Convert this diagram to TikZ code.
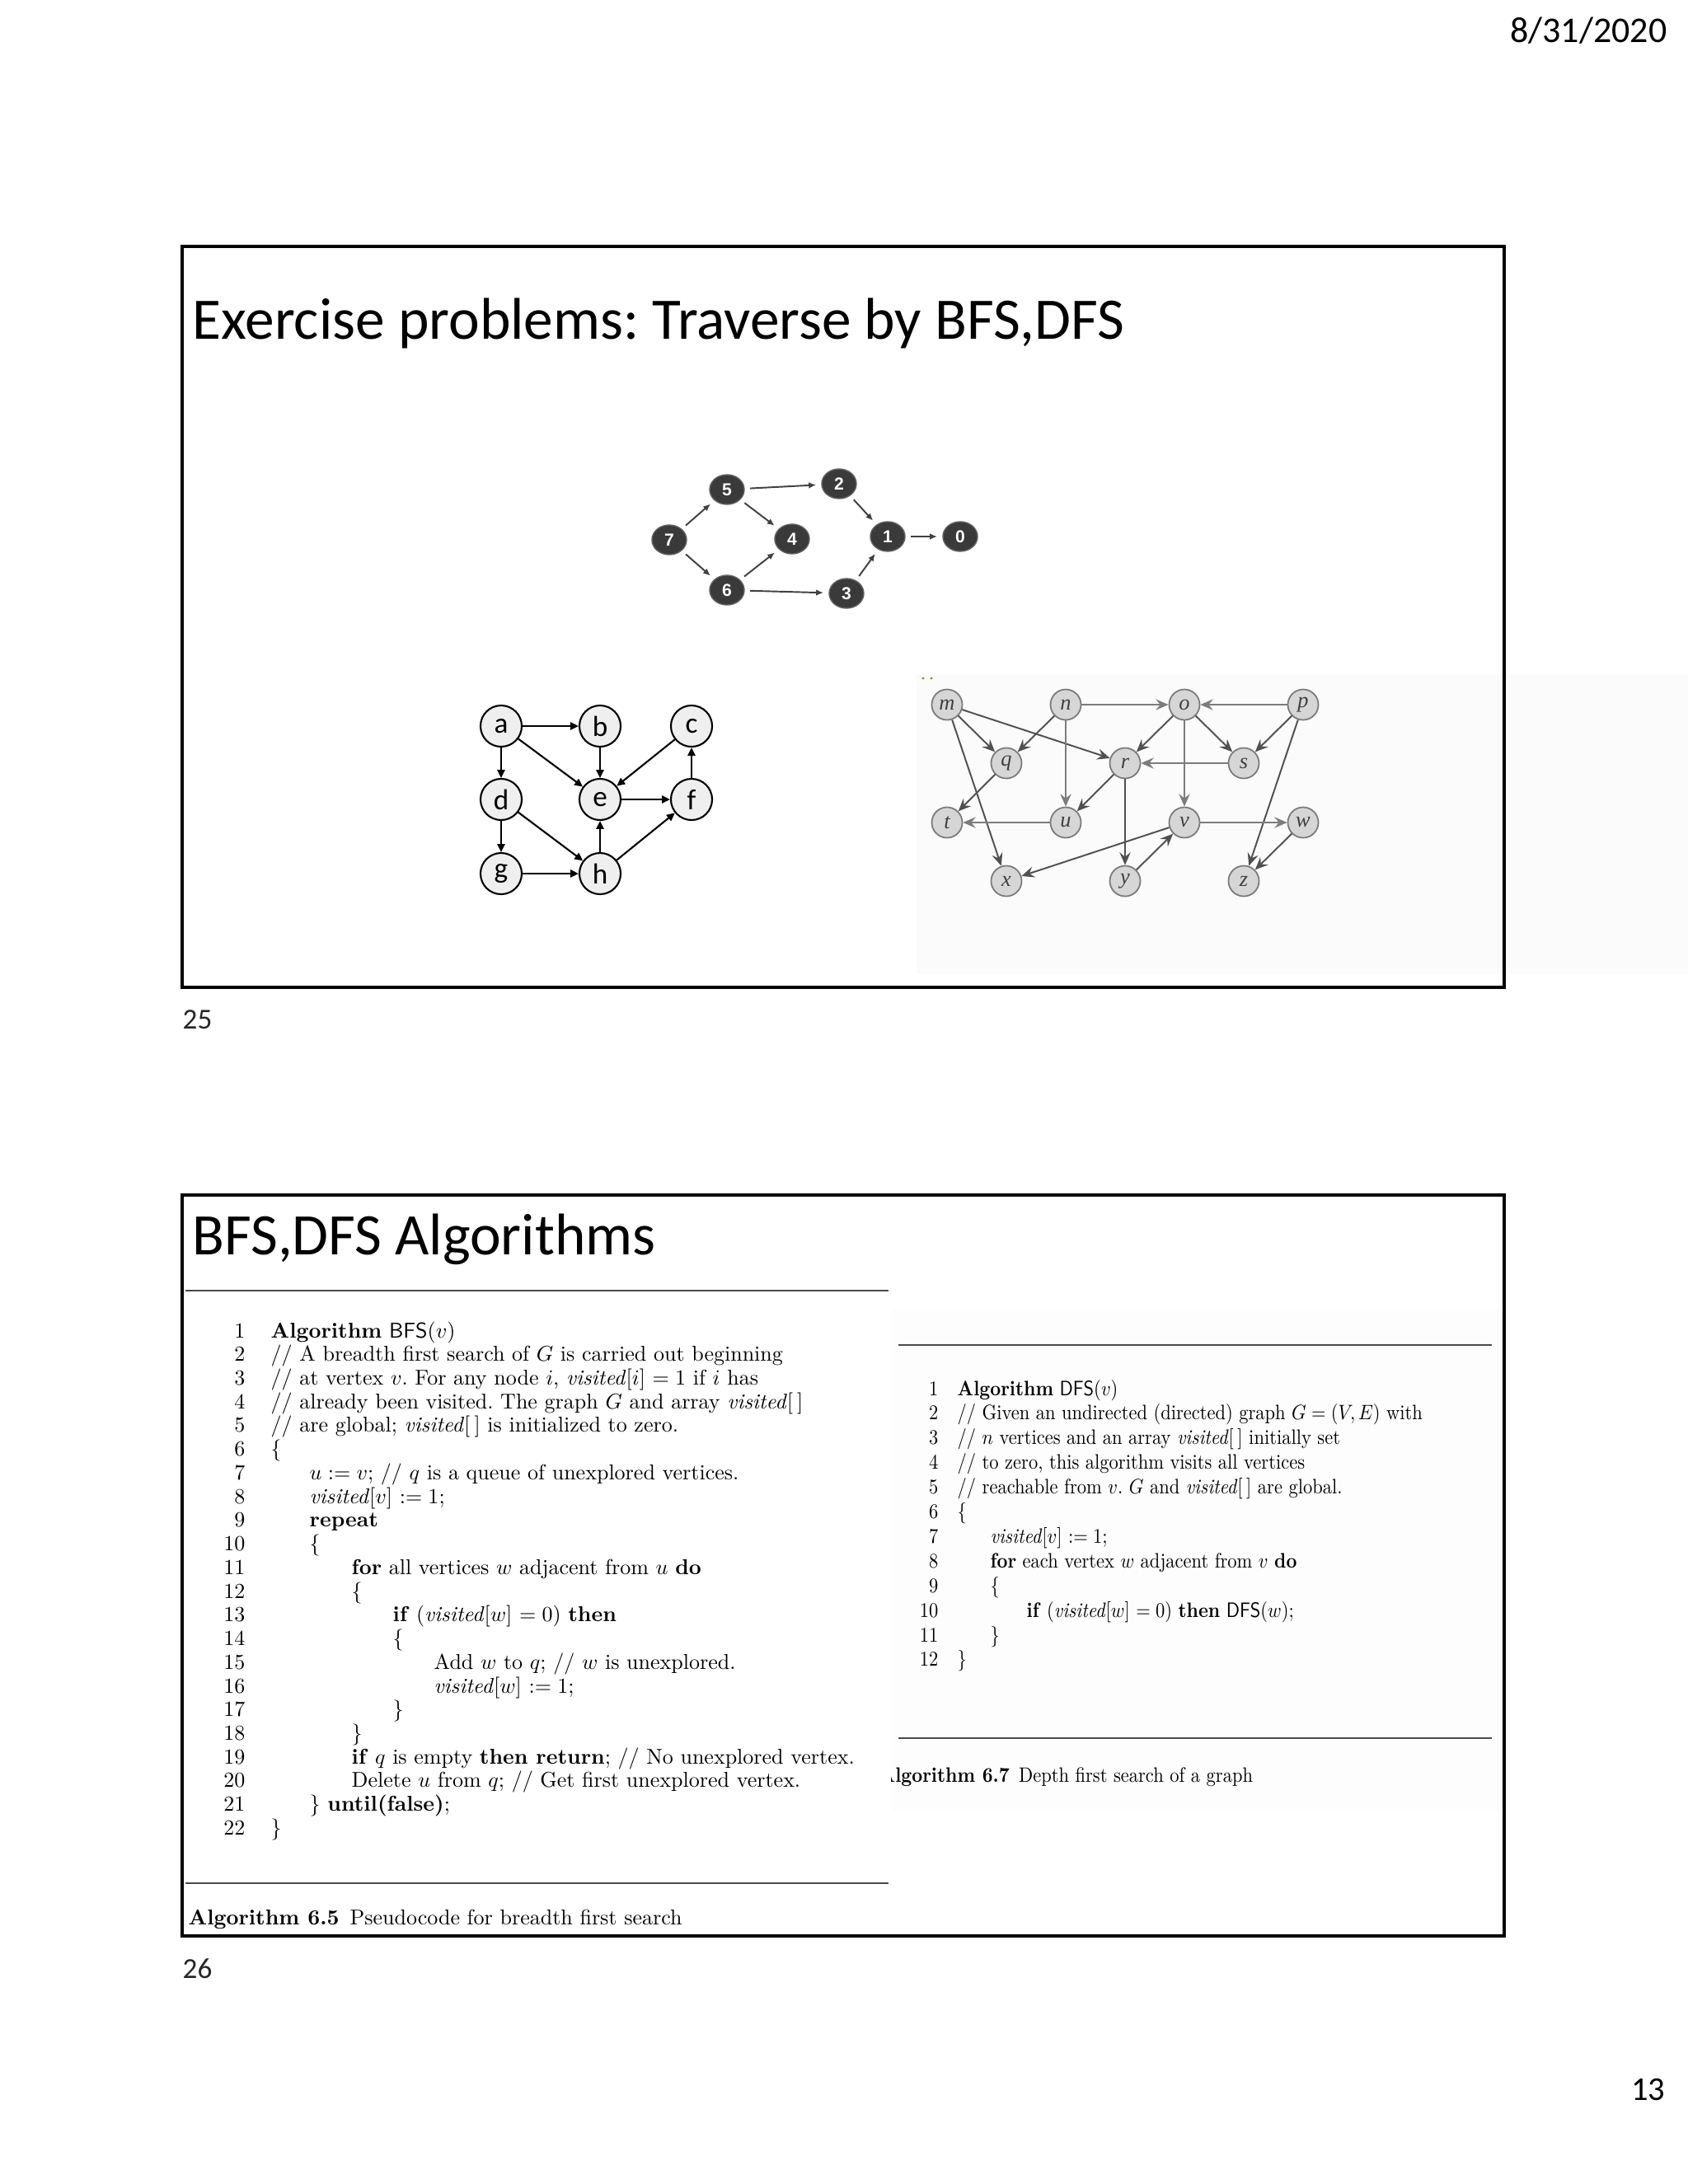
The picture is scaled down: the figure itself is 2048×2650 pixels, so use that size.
\documentclass[tikz,border=0pt]{standalone}
\usepackage{fontspec}
\usepackage{graphicx}
\usetikzlibrary{arrows.meta,shapes.geometric}
\newfontfamily\calfont{Carlito}
\newfontfamily\arfont{Liberation Sans}
\newfontfamily\tmfont{Liberation Serif}
\frenchspacing
\newcommand\algvis{\textit{visited}}
\newcommand\bfsbox[1]{\scalebox{0.74}{#1}}
\newcommand\dfsbox[1]{\scalebox{0.64}[0.72]{#1}}
\definecolor{numfill}{HTML}{3A3A3A}
\definecolor{numline}{HTML}{404040}
\definecolor{ahfill}{HTML}{EFEFEF}
\definecolor{mzfill}{HTML}{D6D6D6}
\definecolor{mzdraw}{HTML}{7A7A7A}
\definecolor{mzline}{HTML}{505050}
\definecolor{mztext}{HTML}{404040}
\definecolor{rulegray}{HTML}{4A4A4A}
\definecolor{dotolive}{HTML}{8A8A40}
\begin{document}
\begin{tikzpicture}[x=0.01cm,y=-0.01cm,
  slideframe/.style={draw=black,line width=1pt},
  slidetitle/.style={anchor=base west,inner sep=0,font=\calfont\fontsize{20.3}{24}\selectfont},
  pagenum/.style={anchor=base west,inner sep=0,text=black!85,font=\calfont\fontsize{10}{12}\selectfont},
  numnode/.style={ellipse,fill=numfill,draw=numfill!80,line width=0.4pt,minimum width=0.42cm,minimum height=0.36cm,inner sep=0,text=white,font=\arfont\bfseries\fontsize{6}{7}\selectfont},
  numarrow/.style={draw=numline,line width=0.55pt,-{Latex[length=2.5pt,width=2.2pt]},shorten <=1.8pt,shorten >=1.8pt},
  ahnode/.style={circle,fill=ahfill,draw=black,line width=0.6pt,minimum size=0.5cm,inner sep=0,font=\calfont\fontsize{10}{12}\selectfont},
  aharrow/.style={draw=black,line width=0.6pt,-{Triangle[length=2.8pt,width=2.6pt]}},
  mznode/.style={circle,fill=mzfill,draw=mzdraw,line width=0.5pt,minimum size=0.37cm,inner sep=0,text=mztext,font=\tmfont\itshape\fontsize{7.5}{9}\selectfont},
  mzarrow/.style={draw=mzline,line width=0.55pt,-{Stealth[length=4.4pt,width=3.8pt,inset=1.6pt]}},
  mzlight/.style={mzarrow,draw=mzline!75,line width=0.45pt},
  bfsnum/.style={anchor=base east,inner sep=0,font=\fontsize{10}{12}\selectfont},
  bfstext/.style={anchor=base west,inner sep=0,font=\fontsize{10}{12}\selectfont},
  dfsnum/.style={anchor=base east,inner sep=0,font=\fontsize{10}{12}\selectfont},
  dfstext/.style={anchor=base west,inner sep=0,font=\fontsize{10}{12}\selectfont},
  algrule/.style={draw=rulegray,line width=0.75pt}]
\useasboundingbox (0,0) rectangle (2048,2650);
\fill[white] (0,0) rectangle (2048,2650);

% faint image backgrounds
\fill[black!1.5] (1112,818) rectangle (2048,1182);
\fill[black!0.8] (1081,1588) rectangle (1822,2200);

% header / footer
\node[anchor=base east,inner sep=0,font=\calfont\fontsize{12.5}{15}\selectfont] (date) at (2023,51) {8/31/2020};
\node[anchor=base east,inner sep=0,font=\calfont\fontsize{11.5}{14}\selectfont] (pg13) at (2021,2548) {13};

% ---------------- slide 25 ----------------
\draw[slideframe] (221,299) rectangle (1825,1198);
\node[slidetitle] (title1) at (233,411) {Exercise problems: Traverse by BFS,DFS};
\node[pagenum] (pg25) at (221,1248) {25};

% numbered graph
\node[numnode] (n7) at (812,655) {7};
\node[numnode] (n5) at (882,594) {5};
\node[numnode] (n2) at (1018,587) {2};
\node[numnode] (n4) at (961,654) {4};
\node[numnode] (n1) at (1077,651) {1};
\node[numnode] (n0) at (1165,651) {0};
\node[numnode] (n6) at (882,716) {6};
\node[numnode] (n3) at (1027,720) {3};
\draw[numarrow] (n7) -- (n5);
\draw[numarrow] (n7) -- (n6);
\draw[numarrow] (n5) -- (n2);
\draw[numarrow] (n5) -- (n4);
\draw[numarrow] (n6) -- (n4);
\draw[numarrow] (n6) -- (n3);
\draw[numarrow] (n2) -- (n1);
\draw[numarrow] (n3) -- (n1);
\draw[numarrow] (n1) -- (n0);

% a-h graph
\node[ahnode] (a) at (608,881) {a};
\node[ahnode] (b) at (728,881) {b};
\node[ahnode] (c) at (839,881) {c};
\node[ahnode] (d) at (608,970) {d};
\node[ahnode] (e) at (728,970) {e};
\node[ahnode] (f) at (839,970) {f};
\node[ahnode] (g) at (608,1060) {g};
\node[ahnode] (h) at (728,1060) {h};
\draw[aharrow] (a) -- (b);
\draw[aharrow] (a) -- (d);
\draw[aharrow] (a) -- (e);
\draw[aharrow] (b) -- (e);
\draw[aharrow] (c) -- (e);
\draw[aharrow] (f) -- (c);
\draw[aharrow] (e) -- (f);
\draw[aharrow] (d) -- (g);
\draw[aharrow] (d) -- (h);
\draw[aharrow] (h) -- (e);
\draw[aharrow] (g) -- (h);
\draw[aharrow] (h) -- (f);

% m-z graph
\fill[dotolive] (1120,823) circle (1.6);
\fill[dotolive] (1130,823) circle (1.6);
\node[mznode] (m) at (1149,855) {m};
\node[mznode] (n) at (1293,855) {n};
\node[mznode] (o) at (1437,855) {o};
\node[mznode] (p) at (1581,855) {p};
\node[mznode] (q) at (1221,926) {q};
\node[mznode] (r) at (1365,926) {r};
\node[mznode] (s) at (1509,926) {s};
\node[mznode] (t) at (1149,998) {t};
\node[mznode] (u) at (1293,998) {u};
\node[mznode] (v) at (1437,998) {v};
\node[mznode] (w) at (1581,998) {w};
\node[mznode] (x) at (1221,1069) {x};
\node[mznode] (y) at (1365,1069) {y};
\node[mznode] (z) at (1509,1069) {z};
\draw[mzarrow] (m) -- (q);
\draw[mzarrow] (m) -- (r);
\draw[mzarrow] (m) -- (x);
\draw[mzarrow] (n) -- (q);
\draw[mzlight] (n) -- (u);
\draw[mzlight] (n) -- (o);
\draw[mzlight] (p) -- (o);
\draw[mzarrow] (o) -- (r);
\draw[mzarrow] (o) -- (s);
\draw[mzlight] (o) -- (v);
\draw[mzarrow] (p) -- (s);
\draw[mzarrow] (p) -- (z);
\draw[mzarrow] (q) -- (t);
\draw[mzarrow] (r) -- (u);
\draw[mzarrow] (r) -- (y);
\draw[mzlight] (s) -- (r);
\draw[mzlight] (u) -- (t);
\draw[mzlight] (v) -- (w);
\draw[mzarrow] (v) -- (x);
\draw[mzarrow] (y) -- (v);
\draw[mzarrow] (w) -- (z);

% ---------------- slide 26 ----------------
\draw[slideframe] (221,1450) rectangle (1825,2349);
\node[slidetitle] (title2) at (233,1522) {BFS,DFS Algorithms};
\node[pagenum] (pg26) at (221,2400) {26};

% BFS algorithm
\draw[algrule] (225,1566) -- (1078,1566);
\draw[algrule] (225,2285) -- (1078,2285);
\node[bfsnum] (bn1) at (298,1623) {\bfsbox{1}};
\node[bfstext] (bt1) at (328,1623) {\bfsbox{\textbf{Algorithm} \textsf{BFS}($v$)}};
\node[bfsnum] (bn2) at (298,1651.7) {\bfsbox{2}};
\node[bfstext] (bt2) at (328,1651.7) {\bfsbox{// A breadth first search of $G$ is carried out beginning}};
\node[bfsnum] (bn3) at (298,1680.5) {\bfsbox{3}};
\node[bfstext] (bt3) at (328,1680.5) {\bfsbox{// at vertex $v$. For any node $i$, \algvis[$i$] $=1$ if $i$ has}};
\node[bfsnum] (bn4) at (298,1709.2) {\bfsbox{4}};
\node[bfstext] (bt4) at (328,1709.2) {\bfsbox{// already been visited. The graph $G$ and array \algvis[\hspace{0.2em}]}};
\node[bfsnum] (bn5) at (298,1737.9) {\bfsbox{5}};
\node[bfstext] (bt5) at (328,1737.9) {\bfsbox{// are global; \algvis[\hspace{0.2em}] is initialized to zero.}};
\node[bfsnum] (bn6) at (298,1766.7) {\bfsbox{6}};
\node[bfstext] (bt6) at (328,1766.7) {\bfsbox{\{}};
\node[bfsnum] (bn7) at (298,1795.4) {\bfsbox{7}};
\node[bfstext] (bt7) at (375,1795.4) {\bfsbox{$u:=v$; // $q$ is a queue of unexplored vertices.}};
\node[bfsnum] (bn8) at (298,1824.1) {\bfsbox{8}};
\node[bfstext] (bt8) at (375,1824.1) {\bfsbox{\algvis[$v$] $:=1$;}};
\node[bfsnum] (bn9) at (298,1852.8) {\bfsbox{9}};
\node[bfstext] (bt9) at (375,1852.8) {\bfsbox{\textbf{repeat}}};
\node[bfsnum] (bn10) at (298,1881.6) {\bfsbox{10}};
\node[bfstext] (bt10) at (375,1881.6) {\bfsbox{\{}};
\node[bfsnum] (bn11) at (298,1910.3) {\bfsbox{11}};
\node[bfstext] (bt11) at (426,1910.3) {\bfsbox{\textbf{for} all vertices $w$ adjacent from $u$ \textbf{do}}};
\node[bfsnum] (bn12) at (298,1939.0) {\bfsbox{12}};
\node[bfstext] (bt12) at (426,1939.0) {\bfsbox{\{}};
\node[bfsnum] (bn13) at (298,1967.8) {\bfsbox{13}};
\node[bfstext] (bt13) at (476,1967.8) {\bfsbox{\textbf{if} (\algvis[$w$] $=0$) \textbf{then}}};
\node[bfsnum] (bn14) at (298,1996.5) {\bfsbox{14}};
\node[bfstext] (bt14) at (476,1996.5) {\bfsbox{\{}};
\node[bfsnum] (bn15) at (298,2025.2) {\bfsbox{15}};
\node[bfstext] (bt15) at (526,2025.2) {\bfsbox{Add $w$ to $q$; // $w$ is unexplored.}};
\node[bfsnum] (bn16) at (298,2054.0) {\bfsbox{16}};
\node[bfstext] (bt16) at (526,2054.0) {\bfsbox{\algvis[$w$] $:=1$;}};
\node[bfsnum] (bn17) at (298,2082.7) {\bfsbox{17}};
\node[bfstext] (bt17) at (476,2082.7) {\bfsbox{\}}};
\node[bfsnum] (bn18) at (298,2111.4) {\bfsbox{18}};
\node[bfstext] (bt18) at (426,2111.4) {\bfsbox{\}}};
\node[bfsnum] (bn19) at (298,2140.1) {\bfsbox{19}};
\node[bfstext] (bt19) at (426,2140.1) {\bfsbox{\textbf{if} $q$ is empty \textbf{then return}; // No unexplored vertex.}};
\node[bfsnum] (bn20) at (298,2168.9) {\bfsbox{20}};
\node[bfstext] (bt20) at (426,2168.9) {\bfsbox{Delete $u$ from $q$; // Get first unexplored vertex.}};
\node[bfsnum] (bn21) at (298,2197.6) {\bfsbox{21}};
\node[bfstext] (bt21) at (375,2197.6) {\bfsbox{\} \textbf{until(false)};}};
\node[bfsnum] (bn22) at (298,2226.3) {\bfsbox{22}};
\node[bfstext] (bt22) at (328,2226.3) {\bfsbox{\}}};
\node[bfstext] (bcap) at (228,2335) {\bfsbox{\textbf{Algorithm 6.5}\enspace Pseudocode for breadth first search}};

% DFS algorithm
\draw[algrule] (1090,1632) -- (1810,1632);
\draw[algrule] (1090,2109) -- (1810,2109);
\node[dfsnum] (dn1) at (1139,1693) {\dfsbox{1}};
\node[dfstext] (dt1) at (1161,1693) {\dfsbox{\textbf{Algorithm} \textsf{DFS}($v$)}};
\node[dfsnum] (dn2) at (1139,1722.9) {\dfsbox{2}};
\node[dfstext] (dt2) at (1161,1722.9) {\dfsbox{// Given an undirected (directed) graph $G=(V,E)$ with}};
\node[dfsnum] (dn3) at (1139,1752.8) {\dfsbox{3}};
\node[dfstext] (dt3) at (1161,1752.8) {\dfsbox{// $n$ vertices and an array \algvis[\hspace{0.2em}] initially set}};
\node[dfsnum] (dn4) at (1139,1782.7) {\dfsbox{4}};
\node[dfstext] (dt4) at (1161,1782.7) {\dfsbox{// to zero, this algorithm visits all vertices}};
\node[dfsnum] (dn5) at (1139,1812.6) {\dfsbox{5}};
\node[dfstext] (dt5) at (1161,1812.6) {\dfsbox{// reachable from $v$. $G$ and \algvis[\hspace{0.2em}] are global.}};
\node[dfsnum] (dn6) at (1139,1842.5) {\dfsbox{6}};
\node[dfstext] (dt6) at (1161,1842.5) {\dfsbox{\{}};
\node[dfsnum] (dn7) at (1139,1872.4) {\dfsbox{7}};
\node[dfstext] (dt7) at (1201,1872.4) {\dfsbox{\algvis[$v$] $:=1$;}};
\node[dfsnum] (dn8) at (1139,1902.3) {\dfsbox{8}};
\node[dfstext] (dt8) at (1201,1902.3) {\dfsbox{\textbf{for} each vertex $w$ adjacent from $v$ \textbf{do}}};
\node[dfsnum] (dn9) at (1139,1932.2) {\dfsbox{9}};
\node[dfstext] (dt9) at (1201,1932.2) {\dfsbox{\{}};
\node[dfsnum] (dn10) at (1139,1962.1) {\dfsbox{10}};
\node[dfstext] (dt10) at (1245,1962.1) {\dfsbox{\textbf{if} (\algvis[$w$] $=0$) \textbf{then} \textsf{DFS}($w$);}};
\node[dfsnum] (dn11) at (1139,1992.0) {\dfsbox{11}};
\node[dfstext] (dt11) at (1201,1992.0) {\dfsbox{\}}};
\node[dfsnum] (dn12) at (1139,2021.9) {\dfsbox{12}};
\node[dfstext] (dt12) at (1161,2021.9) {\dfsbox{\}}};
\begin{scope}
\clip (1081,2120) rectangle (1800,2190);
\node[dfstext] (dcap) at (1066,2162) {\dfsbox{\textbf{Algorithm 6.7}\enspace Depth first search of a graph}};
\end{scope}
\end{tikzpicture}
\end{document}
